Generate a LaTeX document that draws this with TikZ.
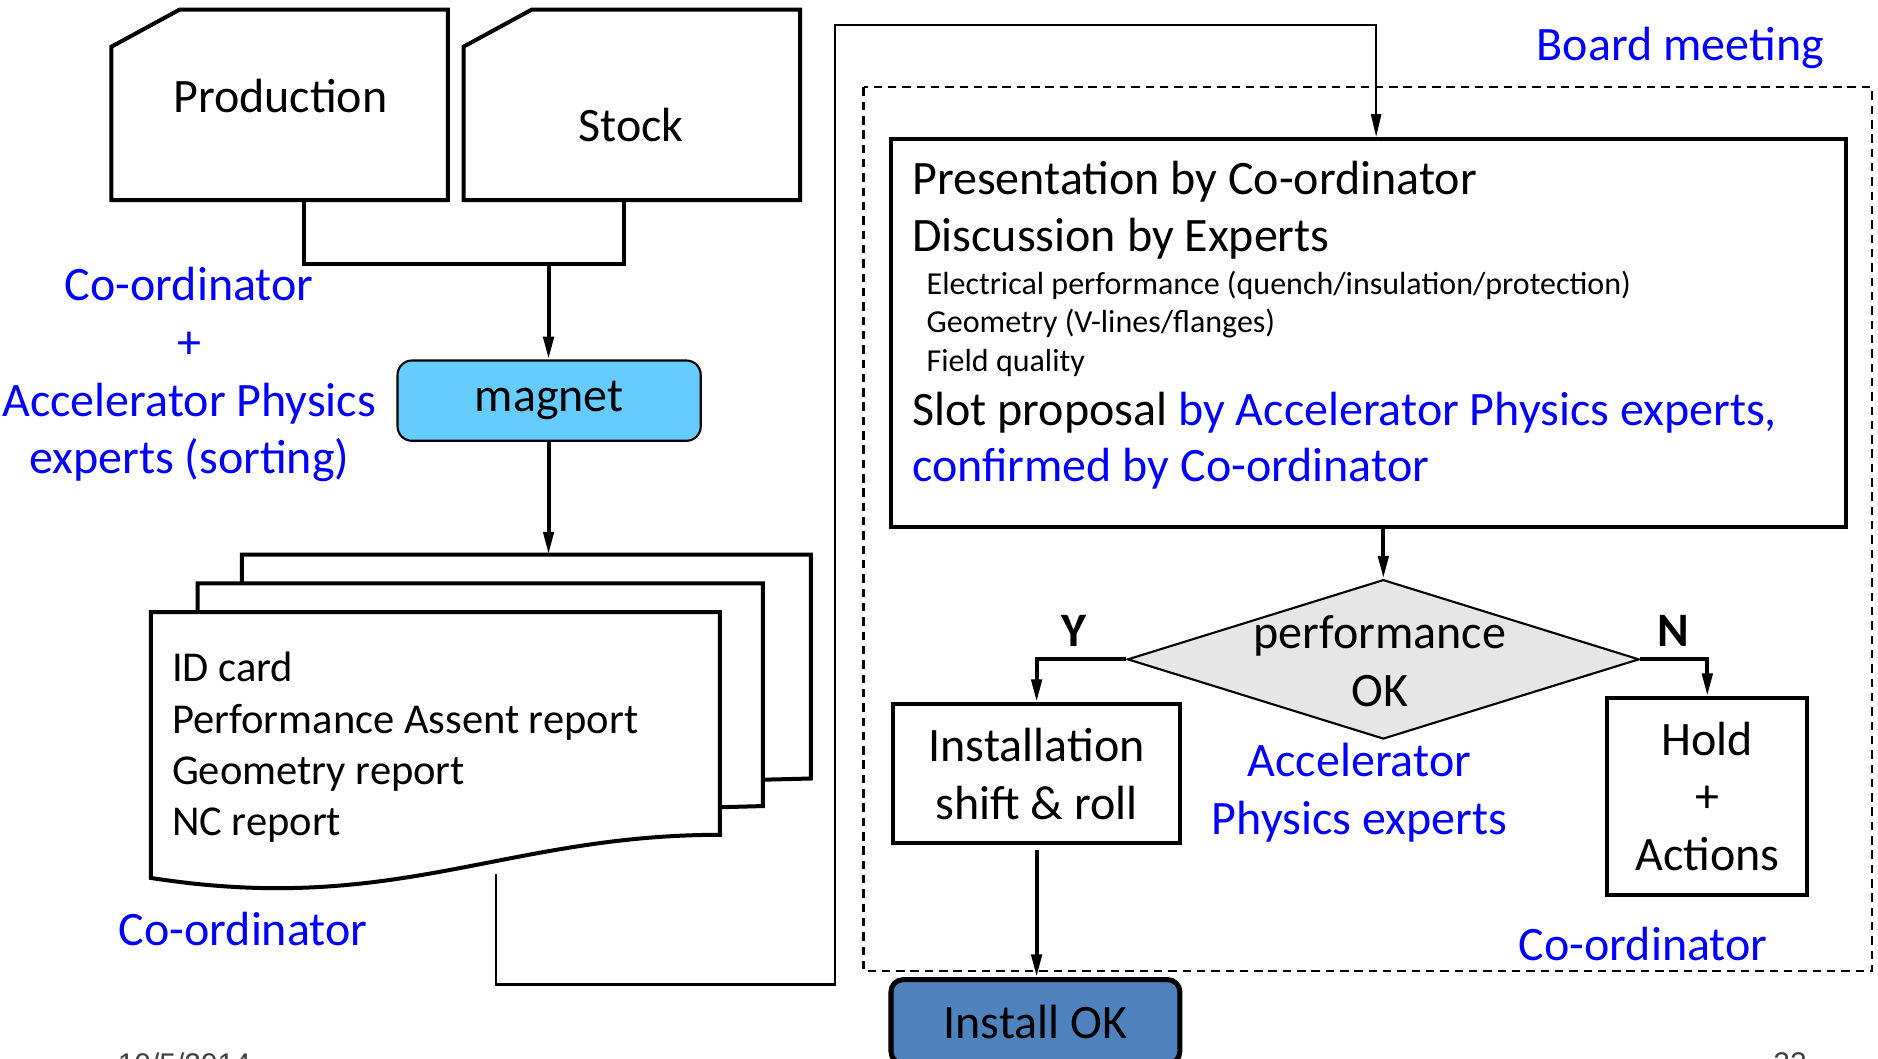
\documentclass[tikz,border=0pt]{standalone}
\usepackage{fontspec}
\setmainfont{Carlito}
\newfontfamily\footfont{Liberation Sans}
\usepackage{xcolor}
\definecolor{mBlue}{HTML}{0000FF}
\definecolor{mSky}{HTML}{66CCFF}
\definecolor{mSteel}{HTML}{4F81BD}
\definecolor{mGrey}{HTML}{E6E6E6}
\usepackage{tikz}
\usetikzlibrary{positioning,arrows.meta,shapes.geometric}
\newcommand\bigtxt{\fontsize{11.4}{13.7}\selectfont}
\newcommand\doctxt{\fontsize{10.1}{12.2}\selectfont}
\newcommand\subtxt{\fontsize{7.6}{9}\selectfont}

\begin{document}
\begin{tikzpicture}[x=0.01cm, y=-0.01cm, font=\bigtxt,
  heavy/.style={line width=0.95pt},
  light/.style={line width=0.5pt},
  arr/.style={-{Triangle[length=1.9mm,width=0.85mm]}},
  note/.style={text=mBlue, align=center, inner sep=0pt},
  box/.style={draw, heavy, align=center, inner sep=0pt}]
\useasboundingbox (0,0) rectangle (1568,884);
% sources: production and stock
\draw[heavy] (93,39) -- (150,8) -- (374,8) -- (374,167) -- (93,167) -- cycle;
\draw[heavy] (387,39) -- (444,8) -- (668,8) -- (668,167) -- (387,167) -- cycle;
\node (prod) at (234,80) {Production};
\node (stock) at (527,104) {Stock};
\coordinate (prodB) at (254,167);
\coordinate (stockB) at (521,167);
\coordinate (join) at (458,220);
\node[note] (sortNote) at (158,313) {Co-ordinator\\+\\Accelerator Physics\\experts (sorting)};
% magnet
\node[draw, light, fill=mSky, rounded corners=0.12cm, minimum width=2.53cm, minimum height=0.67cm] (magnet) at (458.5,334.5) {magnet};
\draw[heavy] (prodB) |- (join) -| (stockB);
\draw[heavy, arr] (join) -- (join |- magnet.north);
% report stack
\coordinate (stackT) at (458,463);
\draw[heavy] (202,487) -- (202,463) -- (677,463) -- (677,650) -- (637,651);
\draw[heavy] (165,511) -- (165,487) -- (637,487) -- (637,673) -- (601,674);
\draw[heavy] (126,511) -- (601,511) -- (601,697) .. controls (420,697) and (330,765) .. (126,733) -- cycle;
\draw[heavy, arr] (magnet.south -| stackT) -- (stackT);
\node[anchor=west, align=left, inner sep=0pt, font=\doctxt] (report) at (143,624) {ID card\\Performance Assent report\\Geometry report\\NC report};
\node[note] (coordA) at (203,776) {Co-ordinator};
% board meeting
\draw[light, dash pattern=on 2pt off 1.4pt] (721,73) rectangle (1563,811);
\node[note] (board) at (1403,40) {Board meeting};
\node[box, minimum width=7.97cm, minimum height=3.24cm] (pres) at (1142.5,278) {};
\node[anchor=base west, inner sep=0pt] (presA) at (761,162) {Presentation by Co-ordinator};
\node[anchor=base west, inner sep=0pt] (presB) at (761,210) {Discussion by Experts};
\node[anchor=base west, inner sep=0pt, font=\subtxt] (presC) at (773,246) {Electrical performance (quench/insulation/protection)};
\node[anchor=base west, inner sep=0pt, font=\subtxt] (presD) at (773,278) {Geometry (V-lines/flanges)};
\node[anchor=base west, inner sep=0pt, font=\subtxt] (presE) at (773,310) {Field quality};
\node[anchor=base west, inner sep=0pt] (presF) at (761,355) {Slot proposal \textcolor{mBlue}{by Accelerator Physics experts,}};
\node[anchor=base west, inner sep=0pt, text=mBlue] (presG) at (761,402) {confirmed by Co-ordinator};
% loop from the reports to the board
\coordinate (stackB) at (414,730);
\coordinate (loop) at (1149,21);
\draw[light, arr] (stackB) |- (697,822) |- (loop) -- (loop |- pres.north);
% decision
\node[draw, light, fill=mGrey, diamond, minimum width=4.27cm, minimum height=1.33cm, inner sep=0pt] (perf) at (1155,550.5) {};
\node[align=center, inner sep=0pt] (perfTxt) at (1152,552) {performance\\OK};
\draw[heavy, arr] (perf.north |- pres.south) -- (perf.north);
\node[box, minimum width=2.39cm, minimum height=1.16cm] (inst) at (865.5,646) {Installation\\shift \& roll};
\node[box, minimum width=1.67cm, minimum height=1.64cm] (hold) at (1425.5,665) {Hold\\+\\Actions};
\draw[heavy, arr] (perf.west) -| (inst.north);
\draw[heavy, arr] (perf.east) -| (hold.north);
\node[font=\bigtxt\bfseries] (yes) at (897,527) {Y};
\node[font=\bigtxt\bfseries] (no) at (1397,527) {N};
\node[note] (apx) at (1135,662) {Accelerator\\Physics experts};
\node[note] (coordB) at (1372,788) {Co-ordinator};
% result
\node[draw, line width=1.2pt, fill=mSteel, rounded corners=0.1cm, minimum width=2.41cm, minimum height=0.70cm] (ok) at (864.5,853) {Install OK};
\draw[heavy, arr, shorten <=0.04cm] (inst.south) -- (inst.south |- ok.north);
% footer
\node[anchor=north west, inner sep=0pt, text=black!75, font=\footfont\fontsize{7.1}{8}\selectfont] (date) at (97.7,878.4) {10/5/2014};
\node[anchor=north west, inner sep=0pt, text=black!75, font=\footfont\fontsize{7.1}{8}\selectfont] (page) at (1480,878.4) {22};
\end{tikzpicture}
\end{document}
